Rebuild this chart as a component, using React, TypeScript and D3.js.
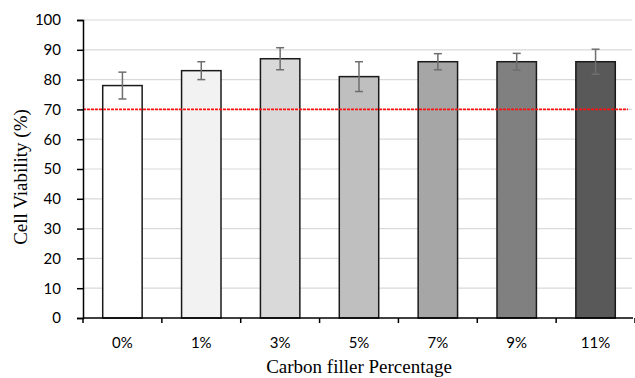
import React, { useEffect, useRef } from "react";
import * as d3 from "d3";

// chart data
const categories = ["0%", "1%", "3%", "5%", "7%", "9%", "11%"];
const viability = [78, 83, 87, 81, 86, 86, 86];
const errors = [4.5, 3, 3.7, 5, 2.7, 2.8, 4.2];
const barColors = ["#ffffff", "#f2f2f2", "#d9d9d9", "#bfbfbf", "#a6a6a6", "#808080", "#595959"];
const yTicks = [0, 10, 20, 30, 40, 50, 60, 70, 80, 90, 100];
const threshold = 70;

const App = () => {
  const ref = useRef<SVGSVGElement>(null);

  useEffect(() => {
    const svg = d3.select(ref.current);
    svg.selectAll("*").remove();

    const left = 83;
    const right = 635;
    const top = 20;
    const bottom = 318;

    const xScale = d3.scaleBand().domain(categories).range([left, right]).paddingInner(0.5).paddingOuter(0.25);
    const yScale = d3.scaleLinear().domain([0, 100]).range([bottom, top]);

    // gridlines
    svg.append("g")
      .selectAll("line")
      .data(yTicks.filter((t) => t > 0))
      .enter()
      .append("line")
      .attr("x1", left)
      .attr("x2", right - 3)
      .attr("y1", (d) => yScale(d))
      .attr("y2", (d) => yScale(d))
      .attr("stroke", "#d9d9d9")
      .attr("stroke-width", 1.2);

    // bars
    svg.append("g")
      .selectAll("rect")
      .data(viability)
      .enter()
      .append("rect")
      .attr("x", (d, i) => xScale(categories[i])!)
      .attr("y", (d) => yScale(d))
      .attr("width", xScale.bandwidth())
      .attr("height", (d) => yScale(0) - yScale(d))
      .attr("fill", (d, i) => barColors[i])
      .attr("stroke", "#1a1a1a")
      .attr("stroke-width", 1.5);

    // threshold line
    svg.append("line")
      .attr("x1", left)
      .attr("x2", 628)
      .attr("y1", yScale(threshold))
      .attr("y2", yScale(threshold))
      .attr("stroke", "#ff1010")
      .attr("stroke-width", 1.6)
      .attr("stroke-dasharray", "3,1");

    // error bars
    const eb = svg.append("g").attr("stroke", "#6e6e6e").attr("stroke-width", 1.5);
    viability.forEach((v, i) => {
      const cx = xScale(categories[i])! + xScale.bandwidth() / 2;
      const y1 = yScale(v + errors[i]);
      const y2 = yScale(v - errors[i]);
      eb.append("line").attr("x1", cx).attr("x2", cx).attr("y1", y1).attr("y2", y2);
      eb.append("line").attr("x1", cx - 4).attr("x2", cx + 4).attr("y1", y1).attr("y2", y1);
      eb.append("line").attr("x1", cx - 4).attr("x2", cx + 4).attr("y1", y2).attr("y2", y2);
    });

    // y axis
    const yAxis = d3.axisLeft(yScale).tickValues(yTicks).tickSize(6).tickPadding(16);
    const gy = svg.append("g").attr("transform", `translate(${left},0)`).call(yAxis);
    gy.select(".domain").attr("stroke", "#000").attr("stroke-width", 1.5);
    gy.selectAll(".tick line").attr("stroke", "#000").attr("stroke-width", 1.5);
    gy.selectAll(".tick text")
      .attr("font-family", "Lato, 'Liberation Sans', sans-serif")
      .attr("font-size", 15)
      .attr("fill", "#000");

    // x axis: ticks at band boundaries
    svg.append("line")
      .attr("x1", left)
      .attr("x2", right - 2)
      .attr("y1", bottom)
      .attr("y2", bottom)
      .attr("stroke", "#000")
      .attr("stroke-width", 1.5);
    const step = xScale.step();
    const boundaries = d3.range(categories.length + 1).map((i) => left + i * step);
    svg.append("g")
      .selectAll("line")
      .data(boundaries)
      .enter()
      .append("line")
      .attr("x1", (d) => d)
      .attr("x2", (d) => d)
      .attr("y1", bottom)
      .attr("y2", bottom + 5)
      .attr("stroke", "#000")
      .attr("stroke-width", 1.5);

    svg.append("g")
      .selectAll("text")
      .data(categories)
      .enter()
      .append("text")
      .attr("x", (d) => xScale(d)! + xScale.bandwidth() / 2)
      .attr("y", 348)
      .attr("text-anchor", "middle")
      .attr("font-family", "Lato, 'Liberation Sans', sans-serif")
      .attr("font-size", 15)
      .attr("fill", "#000")
      .text((d) => d);

    // axis titles
    svg.append("text")
      .attr("x", 359)
      .attr("y", 373)
      .attr("text-anchor", "middle")
      .attr("font-family", "'Liberation Serif', 'Times New Roman', serif")
      .attr("font-size", 19)
      .attr("fill", "#000")
      .text("Carbon filler Percentage");

    svg.append("text")
      .attr("transform", "rotate(-90)")
      .attr("x", -177)
      .attr("y", 27)
      .attr("text-anchor", "middle")
      .attr("font-family", "'Liberation Serif', 'Times New Roman', serif")
      .attr("font-size", 19)
      .attr("fill", "#000")
      .text("Cell Viability (%)");
  }, []);

  return (
    <svg
      ref={ref}
      width={635}
      height={378}
      style={{ position: "absolute", left: 0, top: 0, background: "#fff" }}
    />
  );
};

export default App;
